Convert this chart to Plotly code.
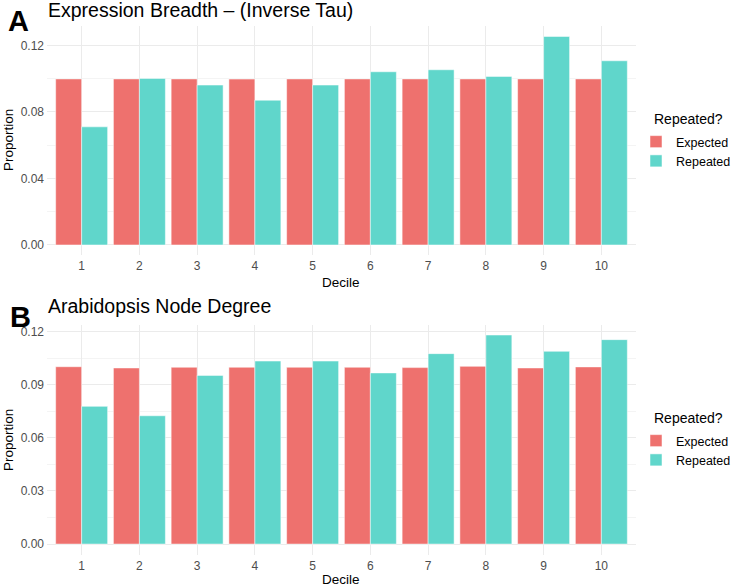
import plotly.graph_objects as go

deciles = [1, 2, 3, 4, 5, 6, 7, 8, 9, 10]
tau_expected = [0.0998, 0.0998, 0.0998, 0.0997, 0.0998, 0.0998, 0.0998, 0.0998, 0.0998, 0.0998]
tau_repeated = [0.0710, 0.1001, 0.0961, 0.0870, 0.0961, 0.1041, 0.1053, 0.1013, 0.1253, 0.1107]
deg_expected = [0.1002, 0.0995, 0.0999, 0.0999, 0.0999, 0.0999, 0.0997, 0.1004, 0.0995, 0.1001]
deg_repeated = [0.0778, 0.0725, 0.0953, 0.1034, 0.1034, 0.0967, 0.1076, 0.1181, 0.1089, 0.1155]
top_ticks = [0.0, 0.04, 0.08, 0.12]
bot_ticks = [0.0, 0.03, 0.06, 0.09, 0.12]

RED = "#EE716E"
TEAL = "#60D6CB"
FONT = "Liberation Sans"
W, H = 732, 586

fig = go.Figure()
for ys, name, color, xa, ya, lg in [
    (tau_expected, "Expected", RED, "x", "y", "legend"),
    (tau_repeated, "Repeated", TEAL, "x", "y", "legend"),
    (deg_expected, "Expected", RED, "x2", "y2", "legend2"),
    (deg_repeated, "Repeated", TEAL, "x2", "y2", "legend2"),
]:
    fig.add_trace(go.Bar(x=deciles, y=ys, name=name, marker=dict(color=color, line=dict(color="white", width=0.5)),
                         xaxis=xa, yaxis=ya, legend=lg, showlegend=True))

xdom = [47 / W, 636 / W]
grid = "#EBEBEB"
tickfont = dict(size=12, color="#4D4D4D", family=FONT)
common_x = dict(range=[0.4, 10.6], tickvals=deciles, ticktext=[str(d) for d in deciles],
                showgrid=True, gridcolor=grid, gridwidth=1, zeroline=False, showline=False,
                ticks="", tickfont=tickfont, automargin=False, ticklabelstandoff=2)
common_y = dict(showgrid=True, gridcolor=grid, gridwidth=1, zeroline=False, showline=False,
                ticks="", tickformat=".2f", tickfont=tickfont, automargin=False, ticklabelstandoff=2)

top_dom = [1 - 255.4 / H, 1 - 26 / H]
bot_dom = [1 - 554.5 / H, 1 - 324.6 / H]

def ann(text, x, y, size, bold=False, angle=0, xanchor="left"):
    return dict(text=f"<b>{text}</b>" if bold else text, x=x / W, y=1 - y / H, xref="paper", yref="paper",
                xanchor=xanchor, yanchor="middle", showarrow=False, textangle=angle,
                font=dict(size=size, color="black", family=FONT))

leg = dict(xanchor="left", yanchor="top", font=dict(size=12.5, color="black", family=FONT),
           bgcolor="rgba(0,0,0,0)", tracegroupgap=0, itemwidth=30)

fig.update_layout(
    width=W, height=H, margin=dict(l=0, r=0, t=0, b=0, autoexpand=False),
    plot_bgcolor="white", paper_bgcolor="white",
    barmode="group", bargap=0.1, bargroupgap=0,
    font=dict(family=FONT),
    xaxis=dict(domain=xdom, anchor="y", **common_x),
    yaxis=dict(domain=top_dom, anchor="x", range=[-0.00627, 0.1316], tickvals=top_ticks,
               minor=dict(tickvals=[0.02, 0.06, 0.10], showgrid=True, gridcolor="#F4F4F4", gridwidth=0.6), **common_y),
    xaxis2=dict(domain=xdom, anchor="y2", **common_x),
    yaxis2=dict(domain=bot_dom, anchor="x2", range=[-0.0059, 0.1240], tickvals=bot_ticks,
                minor=dict(tickvals=[0.015, 0.045, 0.075, 0.105], showgrid=True, gridcolor="#F4F4F4", gridwidth=0.6), **common_y),
    legend=dict(x=636 / W, y=1 - 127 / H, **leg),
    legend2=dict(x=636 / W, y=1 - 426 / H, **leg),
    annotations=[
        ann("A", 6, 21, 29, bold=True),
        ann("Expression Breadth \u2013 (Inverse Tau)", 46, 10, 19.5),
        ann("B", 8, 317, 29, bold=True),
        ann("Arabidopsis Node Degree", 46, 306, 19.5),
        ann("Proportion", 8, 140, 13.5, angle=-90, xanchor="center"),
        ann("Proportion", 8, 440, 13.5, angle=-90, xanchor="center"),
        ann("Decile", 341, 282, 13.5, xanchor="center"),
        ann("Decile", 341, 579, 13.5, xanchor="center"),
        ann("Repeated?", 652, 119, 14),
        ann("Repeated?", 652, 418, 14),
    ],
)

fig.write_html("out.html", config={"displayModeBar": False},
               post_script="document.body.style.margin='0';document.body.style.overflow='hidden';")
